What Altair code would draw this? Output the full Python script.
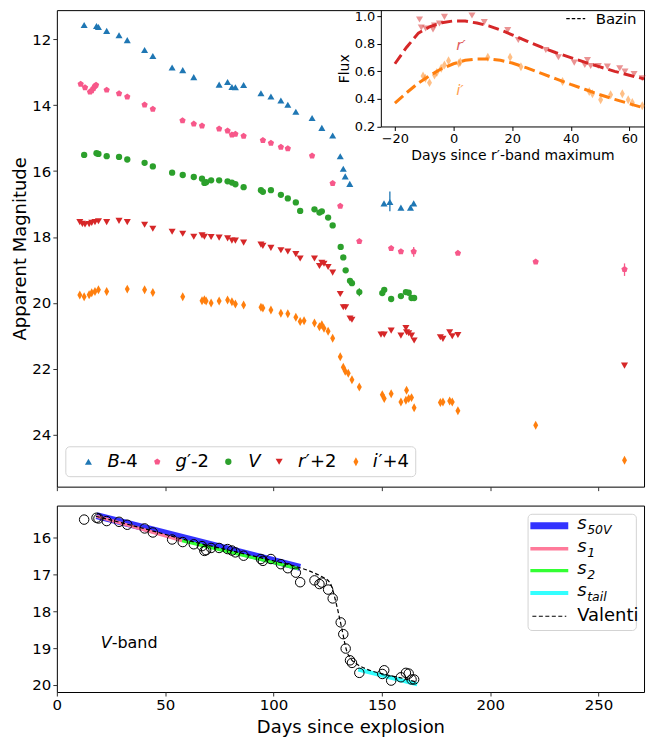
import altair as alt
import pandas as pd

# ---------------- data ----------------
B_day = [12.6, 18.3, 19.2, 23.0, 28.7, 32.5, 40.5, 44.3, 53.2, 58.1, 63.2, 74.9, 78.8, 80.8, 82.4, 86.2,
         94.2, 98.8, 103.4, 106.6, 110.3, 117.8, 122.3, 127.3, 130.8, 132.2, 133.1, 135.2,
         151.0, 153.7, 158.8, 163.2, 164.7]
B_mag = [11.57, 11.60, 11.63, 11.75, 11.88, 12.03, 12.33, 12.51, 12.86, 12.94, 13.15, 13.38, 13.30, 13.45, 13.46, 13.39,
         13.64, 13.74, 13.86, 13.99, 14.20, 14.39, 14.69, 14.92, 15.55, 15.93, 16.16, 16.39,
         16.98, 16.94, 17.11, 17.11, 16.98]

G_day = [11.0, 13.0, 15.3, 16.1, 16.9, 17.6, 18.1, 23.0, 28.7, 32.5, 40.5, 44.3, 58.0, 63.2, 67.0, 74.9,
         78.8, 80.8, 82.4, 86.2, 95.1, 98.8, 103.4, 106.6, 117.8, 127.3, 130.8, 139.6, 154.3, 158.8,
         164.7, 185.1, 221.0, 262.0]
G_mag = [13.36, 13.47, 13.60, 13.56, 13.49, 13.42, 13.39, 13.54, 13.65, 13.75, 13.99, 14.12, 14.47, 14.57, 14.63, 14.72,
         14.78, 14.90, 14.88, 14.94, 15.07, 15.15, 15.27, 15.32, 15.54, 16.37, 17.06, 18.13, 18.34, 18.44,
         18.44, 18.49, 18.75, 18.98]

V_day = [12.6, 18.3, 19.2, 23.0, 28.7, 32.5, 40.5, 44.3, 53.2, 58.1, 63.2, 67.0, 68.1, 68.9, 71.2, 74.9,
         78.8, 80.8, 82.4, 86.2, 94.2, 95.1, 98.8, 103.4, 106.6, 110.3, 112.3, 118.9, 121.2, 122.3,
         125.2, 127.3, 131.0, 132.2, 133.3, 135.3, 136.2, 139.6, 150.2, 151.1, 154.3, 158.8, 161.1,
         162.4, 163.7, 164.9]
V_mag = [15.51, 15.46, 15.48, 15.55, 15.57, 15.65, 15.75, 15.86, 16.05, 16.12, 16.18, 16.23, 16.36, 16.34, 16.28, 16.28,
         16.31, 16.35, 16.40, 16.49, 16.58, 16.63, 16.58, 16.72, 16.83, 16.95, 17.21, 17.16, 17.26, 17.22,
         17.41, 17.65, 18.30, 18.62, 19.01, 19.33, 19.40, 19.67, 19.70, 19.60, 19.88, 19.79, 19.67,
         19.69, 19.85, 19.85]

R_day = [10.6, 11.8, 13.0, 14.9, 16.1, 17.6, 19.2, 23.0, 28.7, 32.5, 40.5, 44.3, 53.2, 58.1, 63.2, 67.0, 68.1,
         71.2, 74.9, 78.8, 80.8, 82.4, 86.2, 94.2, 95.1, 98.8, 103.4, 106.6, 110.3, 112.3, 118.9, 121.2,
         122.3, 123.3, 125.2, 127.3, 130.8, 132.2, 133.3, 135.3, 136.2, 149.6, 151.1, 154.3, 158.8, 161.1,
         161.4, 162.4, 163.7, 164.9, 177.0, 178.2, 181.3, 182.5, 185.1, 262.0]
R_mag = [17.55, 17.60, 17.62, 17.61, 17.57, 17.55, 17.52, 17.55, 17.51, 17.55, 17.63, 17.75, 17.84, 17.90, 17.99, 17.95, 17.99,
         18.00, 18.02, 18.04, 18.11, 18.11, 18.17, 18.23, 18.27, 18.33, 18.40, 18.44, 18.52, 18.65, 18.65, 18.88,
         18.78, 18.81, 18.91, 19.08, 19.73, 20.13, 20.13, 20.47, 20.51, 20.96, 20.96, 20.84, 20.99, 20.76,
         20.89, 20.92, 20.99, 21.14, 21.04, 21.09, 20.89, 21.01, 20.97, 21.90]

I_day = [10.6, 12.6, 14.9, 16.1, 17.6, 19.2, 23.0, 32.5, 40.5, 44.3, 58.1, 67.0, 68.1, 68.9, 71.2, 74.9, 78.8,
         80.8, 82.4, 86.2, 94.2, 95.1, 98.8, 103.4, 106.6, 110.3, 112.3, 114.1, 118.9, 121.2, 122.3, 123.3,
         125.2, 127.3, 130.8, 132.2, 133.1, 134.5, 136.2, 139.6, 150.2, 151.1, 154.3, 158.8, 161.4, 161.1,
         162.4, 163.7, 164.9, 177.0, 178.2, 181.3, 182.5, 185.1, 221.0, 262.0]
I_mag = [19.76, 19.81, 19.75, 19.69, 19.65, 19.60, 19.65, 19.58, 19.60, 19.68, 19.81, 19.93, 19.90, 19.94, 20.00, 19.94, 19.91,
         19.96, 20.03, 20.06, 20.13, 20.15, 20.21, 20.31, 20.33, 20.43, 20.56, 20.54, 20.61, 20.72, 20.66, 20.77,
         20.86, 21.07, 21.63, 21.95, 22.07, 22.13, 22.33, 22.55, 22.78, 22.90, 22.75, 23.00, 22.65, 22.95,
         22.90, 22.87, 23.18, 23.02, 23.00, 22.97, 23.00, 23.27, 23.71, 24.77]

# a few visible error bars
ERR_day = [153.7, 164.7, 262.0, 139.6]
ERR_lo = [16.62, 18.30, 18.80, 19.55]
ERR_hi = [17.22, 18.60, 19.18, 19.80]
ERR_col = ["#1f77b4", "#f7588a", "#f7588a", "#2ca02c"]

# inset: normalised flux vs days since r'-band maximum
RI_day = [-11.6, -11.0, -9.5, -7.0, -6.5, -4.8, -3.1, 6.3, 10.5, 18.5, 22.1, 31.5, 35.8, 41.2, 44.8, 45.7,
          46.8, 49.4, 52.5, 56.7, 58.5, 61.6, 64.4]
RI_flux = [0.976, 0.918, 0.911, 0.904, 0.933, 0.947, 0.995, 1.005, 0.957, 0.899, 0.827, 0.755, 0.702, 0.663,
           0.646, 0.682, 0.639, 0.639, 0.634, 0.622, 0.598, 0.581, 0.550]
II_day = [-10.4, -9.6, -8.2, -6.5, -5.7, -4.2, -3.1, -1.7, 1.8, 2.3, 11.7, 19.3, 23.0, 37.2, 46.3, 47.4,
          50.2, 53.6, 57.6, 59.6, 61.0, 64.4]
II_flux = [0.567, 0.550, 0.518, 0.574, 0.591, 0.622, 0.646, 0.677, 0.658, 0.668, 0.702, 0.702, 0.634, 0.526,
           0.453, 0.437, 0.394, 0.430, 0.437, 0.394, 0.374, 0.350]
BZ_day = [-20, -16, -12, -8, -4, 0, 4, 8, 12, 16, 20, 25, 30, 35, 40, 45, 50, 55, 60, 65]
BZ_r = [0.655, 0.775, 0.877, 0.925, 0.952, 0.966, 0.965, 0.95, 0.93, 0.90, 0.865, 0.82, 0.775, 0.735,
        0.70, 0.665, 0.632, 0.60, 0.572, 0.545]
BZ_i = [0.37, 0.445, 0.515, 0.57, 0.62, 0.655, 0.68, 0.69, 0.69, 0.68, 0.66, 0.625, 0.585, 0.545,
        0.505, 0.468, 0.43, 0.397, 0.365, 0.335]

# bottom panel fits
S50_day = [18.3, 112.3]
S50_mag = [15.40, 16.81]
S1_day = [18.3, 57.8]
S1_mag = [15.42, 16.08]
S2_day = [57.8, 111.5]
S2_mag = [16.08, 16.84]
ST_day = [139.1, 166.3]
ST_mag = [19.58, 19.98]
VAL_day = [18, 40, 60, 80, 100, 110, 115, 118.4, 122, 126.1, 129.2, 131.5, 133.8, 135.3, 138.4, 143,
           150.6, 158.3, 166]
VAL_mag = [15.42, 15.75, 16.07, 16.35, 16.63, 16.78, 16.87, 16.95, 17.05, 17.23, 17.85, 18.46, 19.08,
           19.26, 19.43, 19.57, 19.70, 19.80, 19.92]

# ---------------- styling ----------------
FONT = "DejaVu Sans"
W = 589
H_TOP = 478
H_BOT = 187
X_DOMAIN = [0, 271]
X_TICKS = [0, 50, 100, 150, 200, 250]
C_B, C_G, C_V, C_R, C_I = "#1f77b4", "#f7588a", "#2ca02c", "#d62728", "#ff7f0e"
PENTAGON = "M0,-1L0.951,-0.309L0.588,0.809L-0.588,0.809L-0.951,-0.309Z"
THIN_DIAMOND = "M0,-1L0.55,0L0,1L-0.55,0Z"
ONE = pd.DataFrame({"k": [0]})
TOP_SHIFT = -2  # keep legend / inset anchored to the same page pixels


def band(days, mags):
    return pd.DataFrame({"day": days, "mag": mags})


x_top = alt.X("day:Q", scale=alt.Scale(domain=X_DOMAIN, nice=False, zero=False),
              axis=alt.Axis(values=X_TICKS, labels=False, title=None, tickSize=4, domain=False))
y_top = alt.Y("mag:Q", scale=alt.Scale(domain=[11.12, 25.57], reverse=True, nice=False, zero=False),
              axis=alt.Axis(values=[12, 14, 16, 18, 20, 22, 24], title="Apparent Magnitude",
                            tickSize=4, domain=False, titlePadding=2, labelFlush=False))

SYMS = [
    (B_day, B_mag, "triangle-up", 50, C_B),
    (G_day, G_mag, PENTAGON, 44, C_G),
    (V_day, V_mag, "circle", 40, C_V),
    (R_day, R_mag, "triangle-down", 50, C_R),
    (I_day, I_mag, THIN_DIAMOND, 81, C_I),
]

main_layers = []
err_df = pd.DataFrame({"day": ERR_day, "mag": ERR_lo, "mag2": ERR_hi, "c": ERR_col})
main_layers.append(
    alt.Chart(err_df).mark_rule(strokeWidth=1.3).encode(
        x=x_top, y=y_top, y2=alt.Y2("mag2:Q"), color=alt.Color("c:N", scale=None))
)
for d, m, shp, sz, col in SYMS:
    main_layers.append(
        alt.Chart(band(d, m)).mark_point(shape=shp, size=sz, filled=True, color=col, opacity=1)
        .encode(x=x_top, y=y_top)
    )

# legend of the main panel (drawn by hand)
LY = 455 + TOP_SHIFT
main_layers.append(
    alt.Chart(ONE).mark_rect(fill="white", fillOpacity=0.8, stroke="#d3d3d3", strokeWidth=1,
                             cornerRadius=4)
    .encode(x=alt.value(9), x2=alt.value(360), y=alt.value(LY - 15), y2=alt.value(LY + 15))
)
LEG = [
    (31.7, "triangle-up", 50, C_B, "B", 50.7, "-4", 63.0),
    (100.7, PENTAGON, 44, C_G, "g", 119.0, "\u2032-2", 130.6),
    (172.0, "circle", 40, C_V, "V", 192.0, "", 0),
    (223.0, "triangle-down", 50, C_R, "r", 242.0, "\u2032+2", 249.8),
    (300.0, THIN_DIAMOND, 81, C_I, "i", 317.0, "\u2032+4", 322.6),
]
for sx, shp, sz, col, it, itx, rest, rx in LEG:
    main_layers.append(
        alt.Chart(ONE).mark_point(shape=shp, size=sz, filled=True, color=col, opacity=1)
        .encode(x=alt.value(sx), y=alt.value(LY))
    )
    main_layers.append(
        alt.Chart(ONE).mark_text(text=it, font=FONT, fontSize=18, fontStyle="italic", align="left",
                                 baseline="middle", color="black")
        .encode(x=alt.value(itx), y=alt.value(LY))
    )
    if rest:
        main_layers.append(
            alt.Chart(ONE).mark_text(text=rest, font=FONT, fontSize=18, align="left",
                                     baseline="middle", color="black")
            .encode(x=alt.value(rx), y=alt.value(LY))
        )

main = alt.layer(*main_layers)

# ---------------- inset ----------------
IN_BOT = 118.7 + TOP_SHIFT
ix = alt.X("day:Q", scale=alt.Scale(domain=[-24.8, 65], range=[325, 589], nice=False, zero=False),
           axis=alt.Axis(orient="bottom", offset=IN_BOT - H_TOP, values=[-20, 0, 20, 40, 60],
                         title="Days since r\u2032-band maximum", labelFontSize=13, titleFontSize=14,
                         domain=True, domainColor="black", tickColor="black", tickSize=4,
                         titlePadding=3, labelPadding=2, labelFlush=False))
iy = alt.Y("flux:Q", scale=alt.Scale(domain=[0.2, 1.044], range=[IN_BOT, 0], nice=False, zero=False),
           axis=alt.Axis(orient="left", offset=-325, values=[0.2, 0.4, 0.6, 0.8, 1.0], format=".1f",
                         title="Flux", labelFontSize=13, titleFontSize=14, domain=True,
                         domainColor="black", tickColor="black", tickSize=4, titlePadding=3,
                         labelPadding=2, labelFlush=False))

rpts = pd.DataFrame({"day": RI_day, "flux": RI_flux})
ipts = pd.DataFrame({"day": II_day, "flux": II_flux})
rcur = pd.DataFrame({"day": BZ_day, "flux": BZ_r})
icur = pd.DataFrame({"day": BZ_day, "flux": BZ_i})

inset = alt.layer(
    alt.Chart(rpts).mark_point(shape="triangle-down", size=50, filled=True, color=C_R, opacity=0.5)
    .encode(x=ix, y=iy),
    alt.Chart(ipts).mark_point(shape=THIN_DIAMOND, size=81, filled=True, color=C_I, opacity=0.5)
    .encode(x=ix, y=iy),
    alt.Chart(rcur).mark_line(color=C_R, strokeWidth=3, strokeDash=[11, 5], clip=True)
    .encode(x=ix, y=iy),
    alt.Chart(icur).mark_line(color=C_I, strokeWidth=3, strokeDash=[11, 5], clip=True)
    .encode(x=ix, y=iy),
    alt.Chart(pd.DataFrame({"day": [0.9], "flux": [0.79]}))
    .mark_text(text="r\u2032", font=FONT, fontSize=15, fontStyle="italic", color=C_R, opacity=0.75,
               align="left", baseline="middle").encode(x=ix, y=iy),
    alt.Chart(pd.DataFrame({"day": [0.9], "flux": [0.466]}))
    .mark_text(text="i\u2032", font=FONT, fontSize=15, fontStyle="italic", color=C_I, opacity=0.75,
               align="left", baseline="middle").encode(x=ix, y=iy),
    alt.Chart(ONE).mark_rule(color="black", strokeWidth=1.2, strokeDash=[3.5, 2])
    .encode(x=alt.value(511), x2=alt.value(530), y=alt.value(10.5 + TOP_SHIFT)),
    alt.Chart(ONE).mark_text(text="Bazin", font=FONT, fontSize=15, align="left", baseline="middle",
                             color="black")
    .encode(x=alt.value(540.5), y=alt.value(10.5 + TOP_SHIFT)),
)

top = alt.layer(main, inset).resolve_scale(x="independent", y="independent").properties(
    width=W, height=H_TOP)

# ---------------- bottom panel ----------------
x_bot = alt.X("day:Q", scale=alt.Scale(domain=X_DOMAIN, nice=False, zero=False),
              axis=alt.Axis(values=X_TICKS, title="Days since explosion", tickSize=4, domain=False,
                            titlePadding=6, labelPadding=2, labelFlush=False))
y_bot = alt.Y("mag:Q", scale=alt.Scale(domain=[15.13, 20.19], reverse=True, nice=False, zero=False),
              axis=alt.Axis(values=[16, 17, 18, 19, 20], title=None, tickSize=4, domain=False,
                            labelFlush=False))

C_S50, C_S1, C_S2, C_ST = "#3333ff", "#ff7a9a", "#33ff33", "#33ffff"

bot_layers = [
    alt.Chart(band(S50_day, S50_mag)).mark_line(color=C_S50, strokeWidth=7).encode(x=x_bot, y=y_bot),
    alt.Chart(band(S1_day, S1_mag)).mark_line(color=C_S1, strokeWidth=3.3).encode(x=x_bot, y=y_bot),
    alt.Chart(band(S2_day, S2_mag)).mark_line(color=C_S2, strokeWidth=3.3).encode(x=x_bot, y=y_bot),
    alt.Chart(band(ST_day, ST_mag)).mark_line(color=C_ST, strokeWidth=4).encode(x=x_bot, y=y_bot),
    alt.Chart(band(VAL_day, VAL_mag)).mark_line(color="black", strokeWidth=1.2, strokeDash=[4, 2.5],
                                                interpolate="monotone").encode(x=x_bot, y=y_bot),
    alt.Chart(band(V_day, V_mag)).mark_point(shape="circle", size=90, filled=False, color="black",
                                             strokeWidth=1, opacity=1).encode(x=x_bot, y=y_bot),
    alt.Chart(ONE).mark_text(text="V", font=FONT, fontSize=16, fontStyle="italic", align="left",
                             baseline="middle", color="black")
    .encode(x=alt.value(44), y=alt.value(138)),
    alt.Chart(ONE).mark_text(text="-band", font=FONT, fontSize=16, align="left",
                             baseline="middle", color="black")
    .encode(x=alt.value(55), y=alt.value(138)),
    alt.Chart(ONE).mark_rect(fill="white", fillOpacity=0.8, stroke="#d3d3d3", strokeWidth=1,
                             cornerRadius=4)
    .encode(x=alt.value(472.7), x2=alt.value(581.3), y=alt.value(8.7), y2=alt.value(125.3)),
]
BLEG = [
    (20.3, C_S50, 7, "50V"),
    (43.3, C_S1, 3.3, "1"),
    (65.3, C_S2, 3.3, "2"),
    (87.7, C_ST, 4, "tail"),
]
for yy, col, sw, sub in BLEG:
    bot_layers.append(
        alt.Chart(ONE).mark_rule(color=col, strokeWidth=sw)
        .encode(x=alt.value(475), x2=alt.value(513), y=alt.value(yy))
    )
    bot_layers.append(
        alt.Chart(ONE).mark_text(text="s", font=FONT, fontSize=18, fontStyle="italic", align="left",
                                 baseline="middle", color="black")
        .encode(x=alt.value(522), y=alt.value(yy - 2))
    )
    bot_layers.append(
        alt.Chart(ONE).mark_text(text=sub, font=FONT, fontSize=12.5, fontStyle="italic", align="left",
                                 baseline="middle", color="black")
        .encode(x=alt.value(532), y=alt.value(yy + 4))
    )
bot_layers.append(
    alt.Chart(ONE).mark_rule(color="black", strokeWidth=1.2, strokeDash=[4, 2.5])
    .encode(x=alt.value(477), x2=alt.value(511), y=alt.value(111))
)
bot_layers.append(
    alt.Chart(ONE).mark_text(text="Valenti", font=FONT, fontSize=18, align="left", baseline="middle",
                             color="black")
    .encode(x=alt.value(522), y=alt.value(111))
)

bottom = alt.layer(*bot_layers).properties(width=W, height=H_BOT)

chart = (
    alt.vconcat(top, bottom, spacing=9)
    .properties(padding={"left": 3, "top": 0, "right": 5, "bottom": 2})
    .configure_view(stroke="black", strokeWidth=1)
    .configure_axis(grid=False, labelFont=FONT, titleFont=FONT, labelColor="black", titleColor="black",
                    tickColor="#333333", domainColor="#333333", labelFontSize=15, titleFontSize=18,
                    titleFontWeight="normal")
    .configure_text(font=FONT)
)

chart.save("out.html", embed_options={"renderer": "svg", "actions": False})
